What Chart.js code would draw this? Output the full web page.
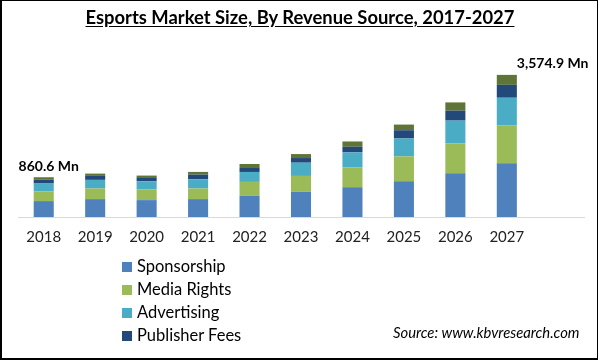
<!DOCTYPE html>
<html>
<head>
<meta charset="utf-8">
<script src="https://cdn.jsdelivr.net/npm/chart.js@4"></script>
<style>
  html, body { margin: 0; padding: 0; background: #fff; }
  #frame { position: absolute; left: 0; top: 0; width: 595px; height: 357px;
           border-top: 1px solid #000; border-right: 1px solid #000;
           border-bottom: 2px solid #000; border-left: 2px solid #000; }
  #wrap { position: absolute; left: 0; top: 0; width: 600px; height: 361px; }
  #title { position: absolute; left: 0; width: 600px; top: 6px; text-align: center;
           font-family: "Lato", sans-serif; font-weight: bold; font-size: 18.4px;
           text-decoration: underline; text-underline-offset: 2px; color: #000; }
  #legend { position: absolute; left: 122px; top: 256px; font-family: "Lato", sans-serif;
            font-size: 16.5px; color: #000; }
  .li { height: 23px; line-height: 20px; white-space: nowrap; }
  .sw { display: inline-block; width: 10px; height: 10px; margin-right: 5px; vertical-align: 0px; }
  #source { position: absolute; left: 393px; top: 323px; font-family: "Lato", sans-serif;
            font-style: italic; font-size: 14.8px; color: #000; }
</style>
</head>
<body>
<div id="wrap">
  <canvas id="c" width="600" height="361"></canvas>
  <div id="title">Esports Market Size, By Revenue Source, 2017-2027</div>
  <div id="legend"></div>
  <div id="source">Source: www.kbvresearch.com</div>
  <div id="frame"></div>
</div>
<script>
const categories = ['2018','2019','2020','2021','2022','2023','2024','2025','2026','2027'];
const sponsorship   = [400, 450, 425, 450, 533, 633, 750, 900, 1100, 1350];
const mediaRights   = [242, 267, 267, 267, 350, 400, 500, 625, 750, 950];
const advertising   = [200, 217, 208, 233, 250, 333, 375, 450, 575, 700];
const publisherFees = [100, 100, 100, 117, 100, 117, 142, 208, 250, 325];
const others        = [58, 58, 42, 67, 100, 100, 133, 142, 208, 250];
const seriesNames = ['Sponsorship', 'Media Rights', 'Advertising', 'Publisher Fees', 'Others'];
const seriesColors = ['#4f81bd', '#9bbb59', '#4bacc6', '#23487a', '#5f7536'];
const legendShown = [true, true, true, true, false];
const totalLabels = [{ index: 0, text: '860.6 Mn', align: 'center' },
                     { index: 9, text: '3,574.9 Mn', align: 'left' }];

const seriesData = [sponsorship, mediaRights, advertising, publisherFees, others];
const datasets = seriesData.map((d, i) => ({
  label: seriesNames[i], data: d, backgroundColor: seriesColors[i],
  borderWidth: 0, categoryPercentage: 1, barPercentage: 0.39
}));

const totalsPlugin = {
  id: 'totals',
  afterDatasetsDraw(chart) {
    const ctx = chart.ctx;
    const x = chart.scales.x, y = chart.scales.y;
    ctx.save();
    ctx.font = 'bold 14px "Lato", sans-serif';
    ctx.fillStyle = '#000';
    ctx.textBaseline = 'alphabetic';
    totalLabels.forEach(l => {
      const sum = seriesData.reduce((s, d) => s + d[l.index], 0);
      const px = x.getPixelForValue(l.index);
      const py = y.getPixelForValue(sum);
      if (l.align === 'center') {
        ctx.textAlign = 'center';
        ctx.fillText(l.text, px + 5, py - 6);
      } else {
        ctx.textAlign = 'left';
        ctx.fillText(l.text, px + 10, py - 7);
      }
    });
    ctx.restore();
  }
};

const chart = new Chart(document.getElementById('c'), {
  type: 'bar',
  data: { labels: [...categories, ''], datasets },
  options: {
    responsive: false, animation: false,
    layout: { padding: { left: 18, right: 16, top: 58, bottom: 104 } },
    plugins: { legend: { display: false }, tooltip: { enabled: false }, title: { display: false } },
    scales: {
      x: { stacked: true,
           grid: { display: false, drawTicks: false },
           border: { display: true, color: '#d9d9d9', width: 1 },
           ticks: { padding: 11, maxRotation: 0, autoSkip: false, color: '#222',
                    font: { family: 'Lato', size: 15 } } },
      y: { stacked: true, display: false, min: 0, max: 4000 }
    }
  },
  plugins: [totalsPlugin]
});

const lg = document.getElementById('legend');
seriesNames.forEach((n, i) => {
  if (!legendShown[i]) return;
  const d = document.createElement('div');
  d.className = 'li';
  d.innerHTML = '<span class="sw" style="background:' + seriesColors[i] + '"></span>' + n;
  lg.appendChild(d);
});
</script>
</body>
</html>
